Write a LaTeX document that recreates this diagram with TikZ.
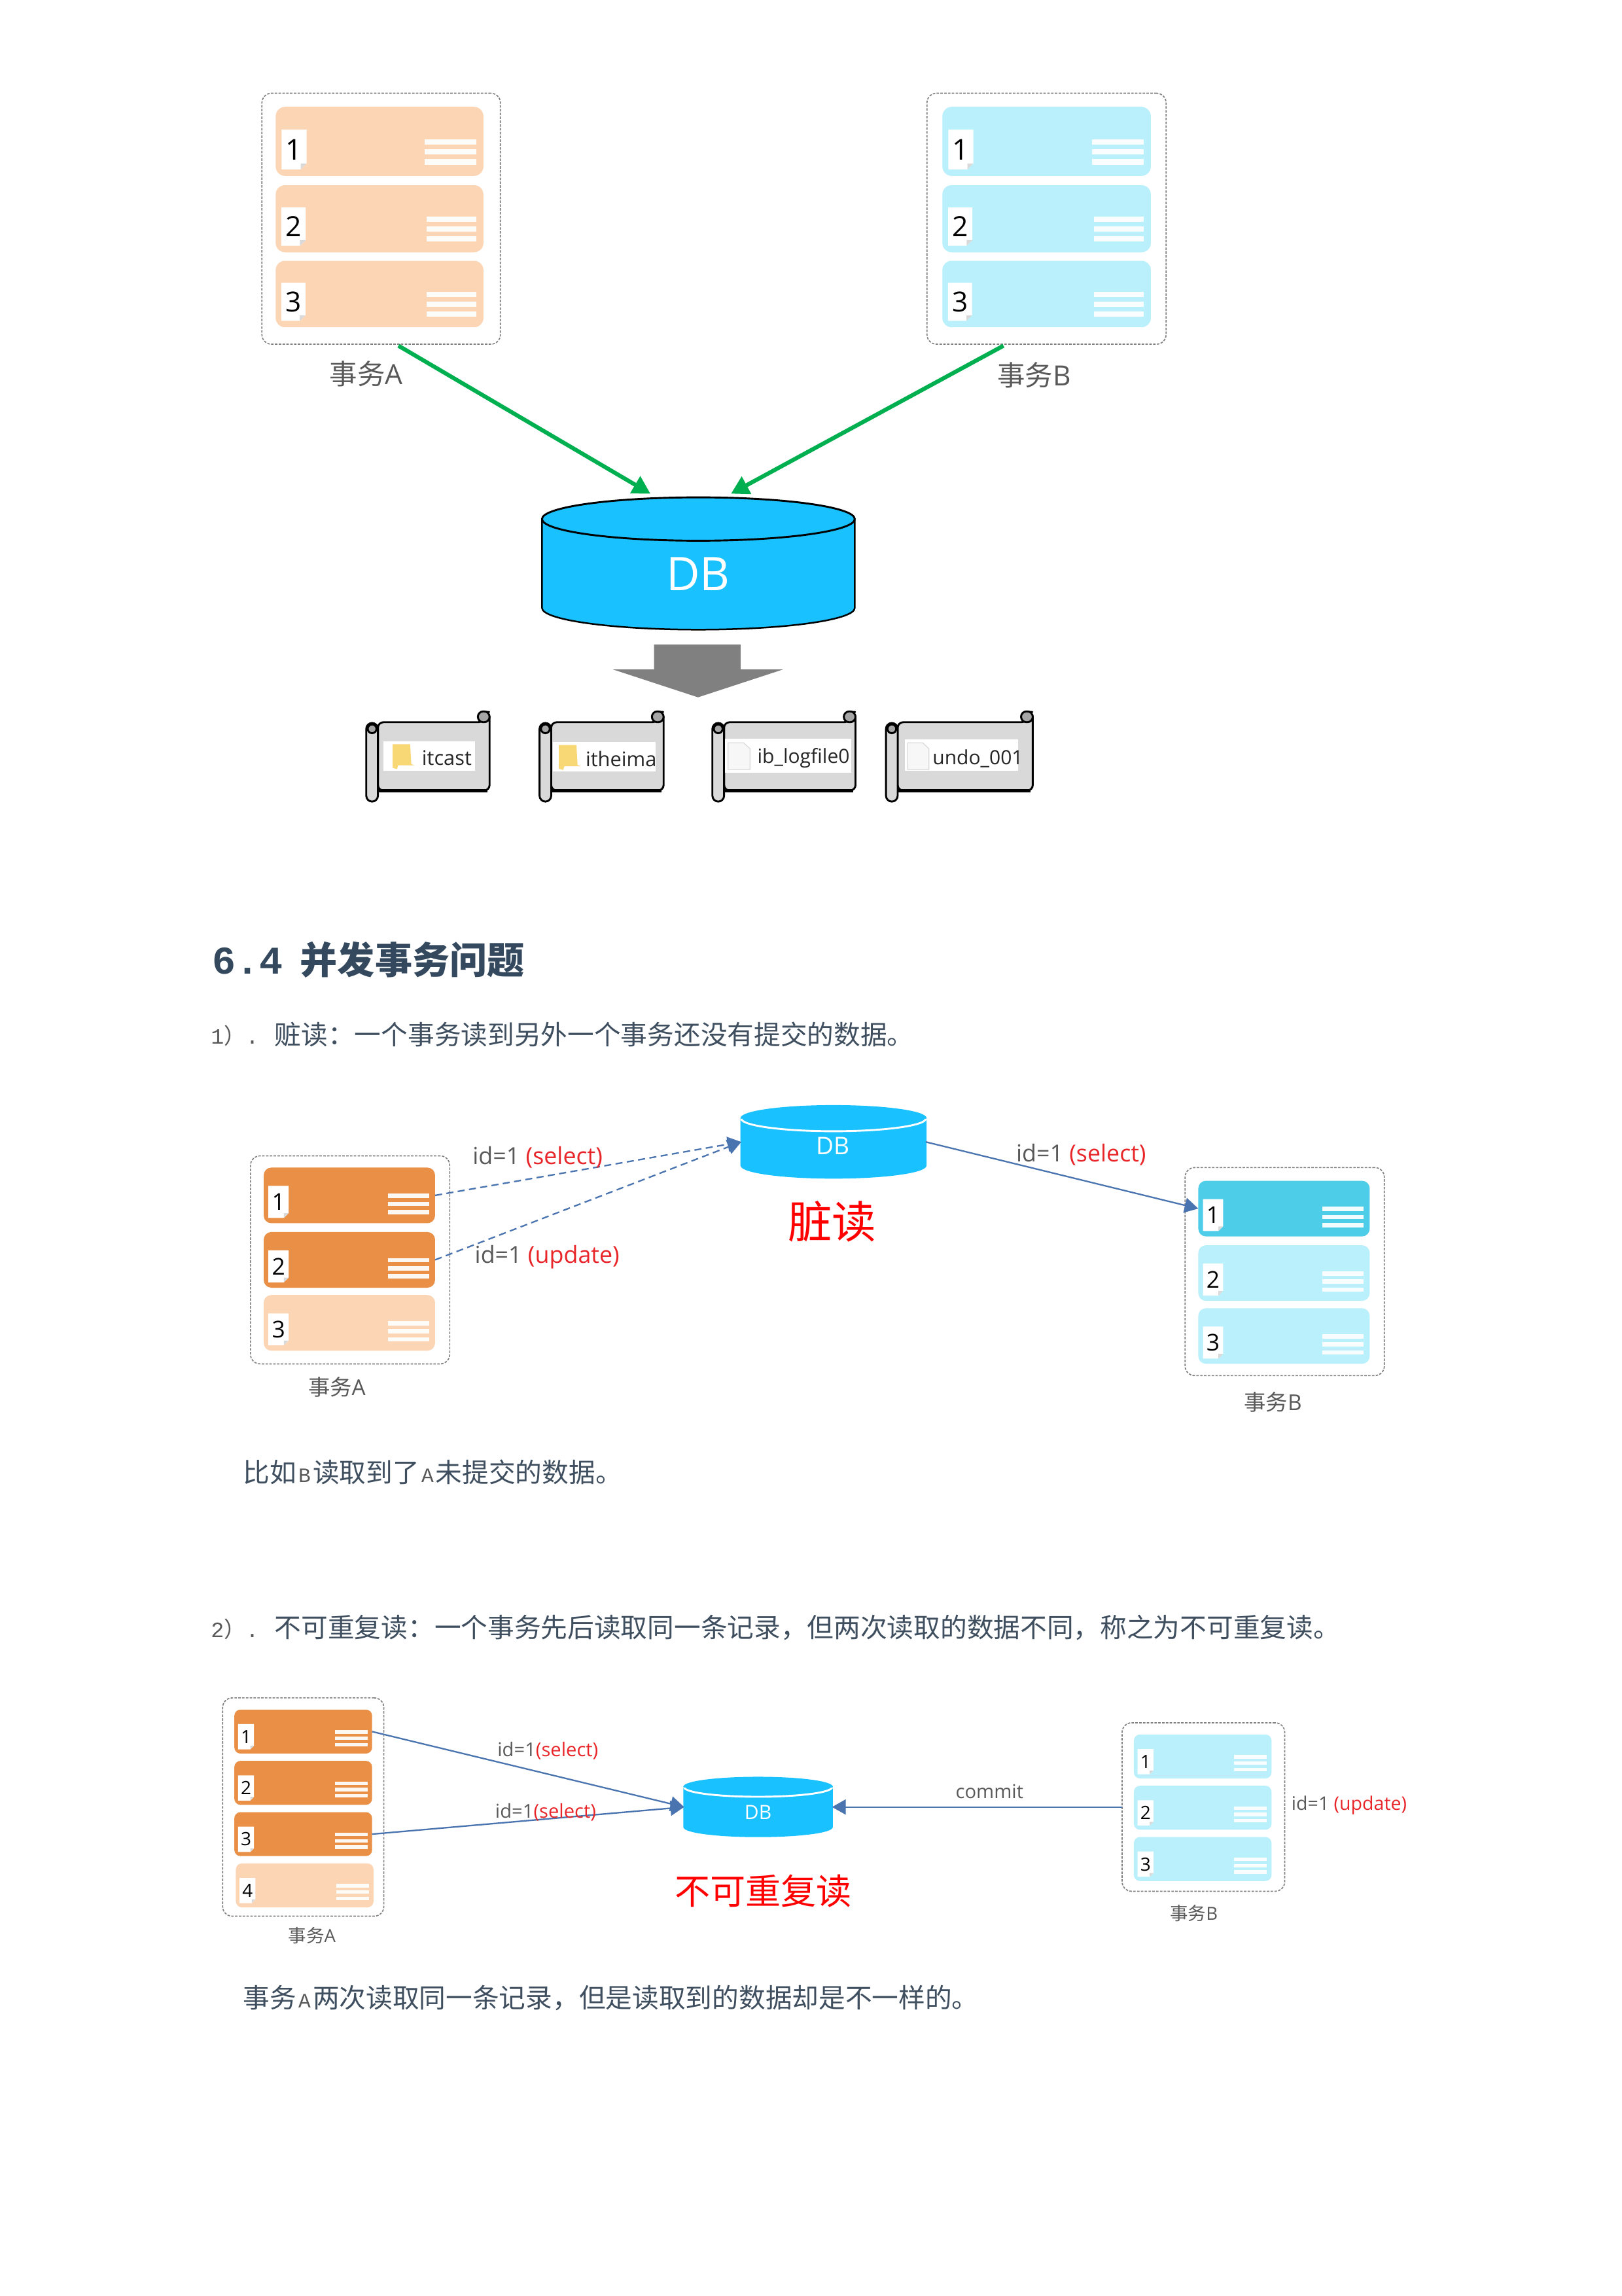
\documentclass[tikz,border=0pt]{standalone}
\usepackage{fontspec}
\setmainfont{Open Sans}
\newfontfamily\cjk{Noto Sans CJK SC}
\newfontfamily\mono{Liberation Mono}
\usetikzlibrary{arrows.meta}
\definecolor{orangeD}{HTML}{E98F46}
\definecolor{orangeL}{HTML}{FCD5B5}
\definecolor{blueL}{HTML}{B9F0FB}
\definecolor{blueM}{HTML}{4DCDE8}
\definecolor{dbblue}{HTML}{19C2FF}
\definecolor{arrowblue}{HTML}{4A74B0}
\definecolor{greenA}{HTML}{00B050}
\definecolor{greyT}{HTML}{595959}
\definecolor{bodyT}{HTML}{3F4F5F}
\definecolor{headT}{HTML}{34495E}
\definecolor{redT}{HTML}{E8262A}
\definecolor{scrollG}{HTML}{D9D9D9}
\definecolor{folderY}{HTML}{F8D775}
\newcommand{\monoletter}[1]{\kern.75pt{\mono\fontsize{7.5pt}{9pt}\selectfont\color{greyT}#1}\kern.75pt}
\tikzset{
  cardbox/.style={rectangle,inner sep=0pt,outer sep=0pt,draw=none},
  groupbox/.style={rectangle,rounded corners=3.5pt,draw=gray,line width=.4pt,dash pattern=on .9pt off .5pt,inner sep=0pt,outer sep=0pt},
  tlabel/.style={inner sep=0pt,outer sep=0pt,text=greyT},
  bodytext/.style={inner sep=0pt,outer sep=0pt,anchor=west,text=bodyT,font=\fontsize{9.77pt}{12pt}\selectfont},
  dbtext/.style={rectangle,inner sep=0pt,outer sep=0pt,text=white},
  bluearrow/.style={draw=arrowblue,line width=.55pt,-{Triangle[length=5pt,width=5.5pt]}},
  dasharrow/.style={bluearrow,dash pattern=on 2.6pt off 1.6pt},
  greenarrow/.style={draw=greenA,line width=1.5pt,-{Triangle[length=6.5pt,width=7pt]}},
  scrollpart/.style={fill=scrollG,draw=black,line width=.7pt,line join=round},
  namebox/.style={rectangle,fill=white,draw=none,inner sep=0pt,outer sep=0pt},
}
% name, x1, y1, x2, y2, fill, number
\newcommand{\txcard}[7]{%
  \pgfmathsetmacro{\cardk}{(#5-#3)/47}%
  \pgfmathsetlengthmacro{\cardr}{\cardk*3.5pt}%
  \pgfmathsetmacro{\cardfs}{10.5*\cardk}%
  \node[cardbox,fill=#6,rounded corners=\cardr,minimum width={(#4-#2)*0.5374pt},minimum height={(#5-#3)*0.5374pt}] (#1) at ({(#2+#4)/2},{(#3+#5)/2}) {};
  \pgfmathsetmacro{\tagx}{#2+4*\cardk}%
  \pgfmathsetmacro{\tagy}{#3+15.5*\cardk}%
  \pgfmathsetmacro{\tagr}{\tagx+17*\cardk}%
  \pgfmathsetmacro{\tagb}{\tagy+27*\cardk}%
  \pgfmathsetmacro{\tagf}{4*\cardk}%
  \fill[white] (\tagx,\tagy) -- (\tagr,\tagy) -- (\tagr,\tagb-\tagf) -- (\tagr-\tagf,\tagb) -- (\tagx,\tagb) -- cycle;
  \fill[black!15] (\tagr,\tagb-\tagf) -- (\tagr-\tagf,\tagb-\tagf) -- (\tagr-\tagf,\tagb) -- cycle;
  \node[inner sep=0pt,outer sep=0pt,text=black,font=\fontsize{\cardfs pt}{\cardfs pt}\selectfont] (#1n) at ({(\tagx+\tagr)/2},{(\tagy+\tagb)/2}) {#7};
  \foreach \lineoff in {22,28.8,35.6}{
    \fill[white,opacity=.93] ({#4-40*\cardk},{#3+\lineoff*\cardk}) rectangle ({#4-5*\cardk},{#3+(\lineoff+3.7)*\cardk});
  }
}
% name, x1, top, x2, bottom, ry, outline colour, ellipse colour
\newcommand{\dbdrum}[8]{%
  \pgfmathsetmacro{\drumrx}{(#4-#2)/2}%
  \pgfmathsetmacro{\drumcx}{(#2+#4)/2}%
  \fill[dbblue] (#2,#3+#6) -- (#2,#5-#6) arc[start angle=180,end angle=0,x radius=\drumrx,y radius=#6] -- (#4,#3+#6) -- cycle;
  \fill[dbblue] (\drumcx,#3+#6) ellipse[x radius=\drumrx,y radius=#6];
  \draw[#7,line width=.6pt] (#2,#3+#6) -- (#2,#5-#6) arc[start angle=180,end angle=0,x radius=\drumrx,y radius=#6] -- (#4,#3+#6);
  \draw[#8,line width=.7pt] (#2,#3+#6) arc[start angle=180,end angle=0,x radius=\drumrx,y radius=#6];
  \draw[#7,line width=.7pt] (#2,#3+#6) arc[start angle=180,end angle=360,x radius=\drumrx,y radius=#6];
  \node[dbtext,minimum width={(#4-#2)*0.5374pt},minimum height={(#5-#3)*0.5374pt}] (#1) at (\drumcx,{(#3+#5)/2}) {};
}
% name, x1, x2
\newcommand{\filescroll}[3]{%
  \draw[scrollpart,rounded corners=2pt] (#2+8,493) -- (#3-4,493) -- (#3-4,486) -- (#3,486) -- (#3,539.6) -- (#2+8,539.6) -- cycle;
  \draw[black,line width=1pt] (#2+8,539.8) -- (#3-1.5,539.8);
  \draw[scrollpart,rounded corners=2.2pt] (#2,493.5) rectangle (#2+8,547.2);
  \draw[scrollpart,rounded corners=2pt,fill=gray!70] (#3-8,485.6) rectangle (#3,493);
  \draw[scrollpart,fill=gray!70] (#2+4,497.5) circle[radius=3];
  \coordinate (#1) at (#2,493);
}
\newcommand{\foldericon}[4]{%
  \fill[folderY] (#1,#3) -- (#1+#2*.8,#3) -- (#1+#2*.85,#3+#4*.8) -- (#1+#2,#3+#4*.85) -- (#1+#2*.25,#3+#4*.85) -- (#1+#2*.2,#3+#4) -- (#1,#3+#4*.95) -- cycle;
}
\newcommand{\fileicon}[4]{%
  \filldraw[fill=black!3,draw=black!15,line width=.3pt] (#1,#3) -- (#1+#2*.7,#3) -- (#1+#2,#3+#4*.22) -- (#1+#2,#3+#4) -- (#1,#3+#4) -- cycle;
}
\begin{document}
\begin{tikzpicture}[x=0.5374pt,y=-0.5374pt]
\useasboundingbox (0,0) rectangle (1107.2,1567.3);
\fill[white] (0,0) rectangle (1107.2,1567.3);

% ---------- top diagram
\node[groupbox,minimum width={162.8*0.5374pt},minimum height={171.3*0.5374pt}] (topA) at (260.2,149.3) {};
\node[groupbox,minimum width={163.2*0.5374pt},minimum height={171.3*0.5374pt}] (topB) at (714.4,149.3) {};
\txcard{topAa}{188.2}{72.9}{330}{120.1}{orangeL}{1}
\txcard{topAb}{188.2}{126.4}{330}{172.2}{orangeL}{2}
\txcard{topAc}{188.2}{178}{330}{223.4}{orangeL}{3}
\txcard{topBa}{643.3}{72.9}{785.6}{120.1}{blueL}{1}
\txcard{topBb}{643.3}{126.4}{785.6}{172.2}{blueL}{2}
\txcard{topBc}{643.3}{178}{785.6}{223.4}{blueL}{3}
\node[tlabel,font=\fontsize{10.2pt}{12pt}\selectfont] (labTopA) at (250,255) {{\cjk 事务}A};
\node[tlabel,font=\fontsize{10.2pt}{12pt}\selectfont] (labTopB) at (706,256) {{\cjk 事务}B};
\dbdrum{dbTop}{370}{339.5}{583.5}{429.8}{14.8}{black}{black}
\node[dbtext,font=\fontsize{17pt}{18pt}\selectfont] (dbTopT) at (476.5,392) {DB};
\coordinate (topAout) at (272,236);
\coordinate (topBout) at (685,236);
\coordinate (dbTopL) at (444,337);
\coordinate (dbTopR) at (499,337);
\draw[greenarrow] (topAout) -- (dbTopL);
\draw[greenarrow] (topBout) -- (dbTopR);
\fill[black!50] (446.5,440) -- (505.5,440) -- (505.5,457) -- (534.5,457) -- (476.5,476) -- (418.5,457) -- (446.5,457) -- cycle;

\filescroll{scA}{250}{334.2}
\filescroll{scB}{368.3}{453}
\filescroll{scC}{486.3}{584}
\filescroll{scD}{604.8}{705}
\node[namebox,minimum width={62.8*0.5374pt},minimum height={20*0.5374pt}] (fnA) at (293,516) {};
\node[namebox,minimum width={70.3*0.5374pt},minimum height={20*0.5374pt}] (fnB) at (412.5,516.5) {};
\node[namebox,minimum width={86.6*0.5374pt},minimum height={23.3*0.5374pt}] (fnC) at (538,516) {};
\node[namebox,minimum width={77.3*0.5374pt},minimum height={21.4*0.5374pt}] (fnD) at (656.5,515.5) {};
\foldericon{268}{15}{508}{17}
\foldericon{381.5}{15}{508.6}{17}
\fileicon{497}{15}{507}{18.3}
\fileicon{619.6}{14.5}{507}{18.3}
\node[inner sep=0pt,text=black!85,font=\fontsize{7.4pt}{9pt}\selectfont] (txA) at (305,517.5) {itcast};
\node[inner sep=0pt,text=black!85,font=\fontsize{7.4pt}{9pt}\selectfont] (txB) at (424,518) {itheima};
\node[inner sep=0pt,text=black!85,font=\fontsize{7.2pt}{9pt}\selectfont] (txC) at (548.5,517.5) {ib\_logfile0};
\node[inner sep=0pt,text=black!85,font=\fontsize{7.2pt}{9pt}\selectfont] (txD) at (667.5,518) {undo\_001};

% ---------- heading and text
\node[inner sep=0pt,outer sep=0pt,anchor=west,text=headT] (heading) at (145,655) {{\mono\bfseries\fontsize{14.4pt}{16pt}\selectfont 6.4}\hspace{6.3pt}{\cjk\bfseries\fontsize{13.7pt}{16pt}\selectfont 并发事务问题}};
\node[inner sep=0pt,outer sep=0pt,anchor=west,text=greyT] (p1num) at (144,707) {\fontsize{8pt}{10pt}\selectfont{\mono 1}{\cjk ）}{\mono .}};
\node[bodytext] (p1) at (187.5,706) {\cjk 赃读：一个事务读到另外一个事务还没有提交的数据。};
\node[bodytext] (p1b) at (166,1005) {\cjk 比如\monoletter{B}读取到了\monoletter{A}未提交的数据。};
\node[inner sep=0pt,outer sep=0pt,anchor=west,text=greyT] (p2num) at (144,1112) {\fontsize{8pt}{10pt}\selectfont{\mono 2}{\cjk ）}{\mono .}};
\node[bodytext] (p2) at (187.5,1111) {\cjk 不可重复读：一个事务先后读取同一条记录，但两次读取的数据不同，称之为不可重复读。};
\node[bodytext] (p2b) at (166,1364) {\cjk 事务\monoletter{A}两次读取同一条记录，但是读取到的数据却是不一样的。};

% ---------- dirty read
\node[groupbox,minimum width={136*0.5374pt},minimum height={142*0.5374pt}] (drA) at (239,860) {};
\node[groupbox,minimum width={136*0.5374pt},minimum height={142*0.5374pt}] (drB) at (877,868) {};
\txcard{drAa}{180}{797}{297}{835}{orangeD}{1}
\txcard{drAb}{180}{841}{297}{879}{orangeD}{2}
\txcard{drAc}{180}{884}{297}{922}{orangeL}{3}
\txcard{drBa}{818}{806}{935}{844}{blueM}{1}
\txcard{drBb}{818}{850}{935}{888}{blueL}{2}
\txcard{drBc}{818}{893}{935}{931}{blueL}{3}
\dbdrum{dbDr}{506}{755}{632}{804}{8.6}{dbblue}{white}
\node[dbtext,font=\fontsize{8.9pt}{10pt}\selectfont] (dbDrT) at (568.5,782) {DB};
\draw[dasharrow] (drAa.east) -- (dbDr.west);
\draw[dasharrow] (drAb.east) -- (dbDr.west);
\draw[bluearrow] (dbDr.east) -- (drBa.west);
\node[tlabel,font=\fontsize{8.6pt}{10pt}\selectfont] (drL1) at (367,790) {id=1 \textcolor{redT}{(select)}};
\node[tlabel,font=\fontsize{8.6pt}{10pt}\selectfont] (drL2) at (373.5,858) {id=1 \textcolor{redT}{(update)}};
\node[tlabel,font=\fontsize{8.6pt}{10pt}\selectfont] (drL3) at (738,788) {id=1 \textcolor{redT}{(select)}};
\node[inner sep=0pt,text=red,font=\fontsize{16.2pt}{18pt}\selectfont\cjk] (drTitle) at (568,834) {脏读};
\node[tlabel,font=\fontsize{8pt}{10pt}\selectfont] (drLA) at (230,947) {{\cjk 事务}A};
\node[tlabel,font=\fontsize{8pt}{10pt}\selectfont] (drLB) at (869,957) {{\cjk 事务}B};

% ---------- non-repeatable read
\node[groupbox,minimum width={110*0.5374pt},minimum height={149*0.5374pt}] (nrA) at (207,1233.5) {};
\node[groupbox,minimum width={111*0.5374pt},minimum height={115*0.5374pt}] (nrB) at (821.5,1233.5) {};
\txcard{nrAa}{160}{1167}{254}{1197}{orangeD}{1}
\txcard{nrAb}{160}{1202}{254}{1232}{orangeD}{2}
\txcard{nrAc}{160}{1237}{254}{1267}{orangeD}{3}
\txcard{nrAd}{161}{1272}{255}{1302}{orangeL}{4}
\txcard{nrBa}{774}{1184}{868}{1214}{blueL}{1}
\txcard{nrBb}{774}{1219}{868}{1249}{blueL}{2}
\txcard{nrBc}{774}{1254}{868}{1284}{blueL}{3}
\dbdrum{dbNr}{467}{1213.5}{568}{1253.5}{6.5}{dbblue}{white}
\node[dbtext,font=\fontsize{7.2pt}{9pt}\selectfont] (dbNrT) at (517.5,1237) {DB};
\draw[bluearrow] (nrAa.east) -- (dbNr.west);
\draw[bluearrow] (nrAc.east) -- (dbNr.west);
\draw[bluearrow] (nrB.west) -- (dbNr.east);
\node[tlabel,font=\fontsize{7pt}{9pt}\selectfont] (nrL1) at (374,1195) {id=1\textcolor{redT}{(select)}};
\node[tlabel,font=\fontsize{7pt}{9pt}\selectfont] (nrL2) at (372.5,1237) {id=1\textcolor{redT}{(select)}};
\node[tlabel,font=\fontsize{7pt}{9pt}\selectfont] (nrL3) at (675.5,1223) {commit};
\node[tlabel,font=\fontsize{6.85pt}{9pt}\selectfont] (nrL4) at (921,1232.5) {id=1 \textcolor{redT}{(update)}};
\node[inner sep=0pt,text=red,font=\fontsize{13pt}{15pt}\selectfont\cjk] (nrTitle) at (521,1291) {不可重复读};
\node[tlabel,font=\fontsize{6.6pt}{8pt}\selectfont] (nrLA) at (213,1321) {{\cjk 事务}A};
\node[tlabel,font=\fontsize{6.6pt}{8pt}\selectfont] (nrLB) at (815,1306) {{\cjk 事务}B};
\end{tikzpicture}
\end{document}
